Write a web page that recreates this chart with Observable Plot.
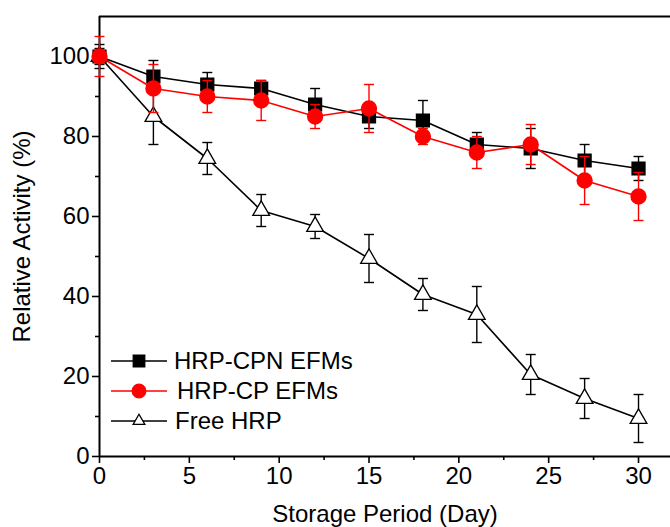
<!DOCTYPE html>
<html>
<head>
<meta charset="utf-8">
<script src="https://cdn.jsdelivr.net/npm/d3@7"></script>
<script src="https://cdn.jsdelivr.net/npm/@observablehq/plot@0.6"></script>
<style>
  html, body { margin: 0; padding: 0; background: #fff; }
  #wrap { position: relative; width: 670px; height: 527px; overflow: hidden; font-family: "Liberation Sans", Arial, sans-serif; }
  #legend { position: absolute; left: 108px; top: 346px; font-size: 24px; color: #000; }
  #legend .row { display: flex; align-items: center; height: 30px; }
  #legend svg { display: block; margin-right: 6px; }
</style>
</head>
<body>
<div id="wrap"><div id="chart"></div><div id="legend"></div></div>
<script>
const days = [0, 3, 6, 9, 12, 15, 18, 21, 24, 27, 30];
const cpnValues = [100, 95, 93, 92, 88, 85, 84, 78, 77, 74, 72];
const cpnErrors = [3, 4, 3, 2, 4, 3, 5, 3, 5, 4, 3];
const cpValues = [100, 92, 90, 89, 85, 87, 80, 76, 78, 69, 65];
const cpErrors = [5, 6, 4, 5, 3, 6, 2, 4, 5, 6, 6];
const freeValues = [100, 85, 74.5, 61.5, 57.5, 49.5, 40.5, 35.5, 20.5, 14.5, 9.5];
const freeErrors = [2, 7, 4, 4, 3, 6, 4, 7, 5, 5, 6];
const seriesNames = ["HRP-CPN EFMs", "HRP-CP EFMs", "Free HRP"];
const yMajor = [0, 20, 40, 60, 80, 100];
const yMinor = [10, 30, 50, 70, 90];
const xMajor = [0, 5, 10, 15, 20, 25, 30];
const xMinor = [2.5, 7.5, 12.5, 17.5, 22.5, 27.5];

const rows = (name, vals, errs) => days.map((d, i) => ({series: name, day: d, v: vals[i], e: errs[i]}));
const cap = {draw(ctx, size) { const w = Math.sqrt(size / Math.PI); ctx.moveTo(-w, 0); ctx.lineTo(w, 0); }};

function seriesMarks(data, color, symbol, r, fill) {
  return [
    Plot.line(data, {x: "day", y: "v", stroke: color, strokeWidth: 1.6}),
    Plot.ruleX(data, {x: "day", y1: d => d.v - d.e, y2: d => d.v + d.e, stroke: color, strokeWidth: 1.4}),
    Plot.dot(data, {x: "day", y: d => d.v + d.e, symbol: cap, r: 5, stroke: color, strokeWidth: 1.4}),
    Plot.dot(data, {x: "day", y: d => d.v - d.e, symbol: cap, r: 5, stroke: color, strokeWidth: 1.4}),
    Plot.dot(data, {x: "day", y: "v", symbol, r, fill, stroke: color, strokeWidth: 1.3})
  ];
}

const free = rows(seriesNames[2], freeValues, freeErrors);
const cpn = rows(seriesNames[0], cpnValues, cpnErrors);
const cp = rows(seriesNames[1], cpValues, cpErrors);

const chart = Plot.plot({
  width: 670,
  height: 527,
  marginLeft: 99,
  marginRight: 0,
  marginTop: 16,
  marginBottom: 71,
  style: {fontFamily: "'Liberation Sans', Arial, sans-serif", color: "#000", background: "#fff"},
  x: {domain: [0, 31.78]},
  y: {domain: [0, 110]},
  marks: [
    Plot.axisY({ticks: yMajor, tickSize: 7, tickPadding: 3, fontSize: 24, strokeWidth: 1.6,
      label: "Relative Activity (%)", labelAnchor: "center", labelOffset: 87, labelArrow: "none"}),
    Plot.axisY({ticks: yMinor, tickSize: 4, strokeWidth: 1.6, tickFormat: () => "", label: null}),
    Plot.axisX({ticks: xMajor, tickSize: 7, tickPadding: 3, fontSize: 24, strokeWidth: 1.6,
      label: "Storage Period (Day)", labelAnchor: "center", labelOffset: 65, labelArrow: "none"}),
    Plot.axisX({ticks: xMinor, tickSize: 4, strokeWidth: 1.6, tickFormat: () => "", label: null}),
    Plot.ruleX([0], {strokeWidth: 2}),
    Plot.ruleY([0], {strokeWidth: 2}),
    Plot.ruleY([110], {strokeWidth: 2}),
    ...seriesMarks(free, "#000", "triangle", 6.2, "#fff"),
    ...seriesMarks(cpn, "#000", "square", 7.3, "#000"),
    ...seriesMarks(cp, "#ff0000", "circle", 7.5, "#ff0000")
  ]
});
document.getElementById("chart").appendChild(chart);

// legend
const legendSpecs = [
  {name: seriesNames[0], color: "#000", symbol: d3.symbolSquare, size: Math.PI * 6.5 * 6.5, fill: "#000", gap: 6},
  {name: seriesNames[1], color: "#ff0000", symbol: d3.symbolCircle, size: Math.PI * 6.8 * 6.8, fill: "#ff0000", gap: 9},
  {name: seriesNames[2], color: "#000", symbol: d3.symbolTriangle2, size: Math.PI * 5.6 * 5.6, fill: "#fff", gap: 7}
];
const legend = d3.select("#legend");
for (const s of legendSpecs) {
  const row = legend.append("div").attr("class", "row");
  const svg = row.append("svg").attr("width", 60).attr("height", 24).style("margin-right", s.gap + "px");
  svg.append("line").attr("x1", 3).attr("x2", 59).attr("y1", 12).attr("y2", 12).attr("stroke", s.color).attr("stroke-width", 1.6);
  svg.append("path").attr("transform", "translate(31,12)").attr("d", d3.symbol(s.symbol, s.size)())
    .attr("fill", s.fill).attr("stroke", s.color).attr("stroke-width", 1.3);
  row.append("span").text(s.name);
}
</script>
</body>
</html>
